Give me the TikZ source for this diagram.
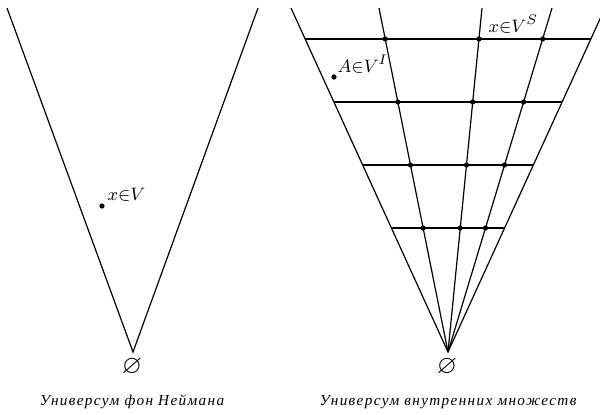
\documentclass[tikz,border=0pt]{standalone}
\usepackage{amssymb}
\usepackage{fontspec}
\newfontfamily\capfont[LetterSpace=9]{Liberation Serif}
\usetikzlibrary{calc}
\begin{document}
\begin{tikzpicture}[x=0.5pt,y=-0.5pt,line width=0.6pt,
  dot/.style={circle,fill,inner sep=0pt,minimum size=2.6pt},
  lbl/.style={anchor=base west,inner sep=0pt,font=\fontsize{9.5}{11}\selectfont},
  empty/.style={inner sep=0pt,font=\fontsize{13}{15}\selectfont},
  caption/.style={anchor=base,font=\capfont\itshape\fontsize{7.6}{9}\selectfont}]
  \useasboundingbox (0,0) rectangle (600,414);
  % Von Neumann universe
  \coordinate (o1) at (133,352);
  \draw (7,8) -- (o1) -- (258,8);
  \node[dot] (x1) at (102,206) {};
  \node[lbl] (xv) at (107,200) {$x{\in}V$};
  \node[empty] (e1) at (132,367) {$\varnothing$};
  \node[caption] (c1) at (132,405) {Универсум фон Неймана};
  % Internal set universe
  \coordinate (o2) at (448,352);
  \coordinate (l2) at (291,8);
  \coordinate (r2) at (605,8);
  \coordinate (a) at (379,8);
  \coordinate (b) at (482,8);
  \coordinate (c) at (552,8);
  \draw (l2) -- (o2) -- (r2);
  \foreach \r in {a,b,c}
    \draw (o2) -- (\r);
  \foreach \y in {39,102,165,228} {
    \pgfmathsetmacro\t{(352-\y)/344}
    \draw ($(o2)!\t!(l2)$) -- ($(o2)!\t!(r2)$);
    \foreach \r in {a,b,c}
      \node[dot] at ($(o2)!\t!(\r)$) {};
  }
  \node[dot] (a1) at (334,77) {};
  \node[lbl] (av) at (337,72) {$A{\in}V^I$};
  \node[lbl] (xs) at (488,32) {$x{\in}V^S$};
  \node[empty] (e2) at (447,367) {$\varnothing$};
  \node[caption] (c2) at (448,405) {Универсум внутренних множеств};
\end{tikzpicture}
\end{document}
